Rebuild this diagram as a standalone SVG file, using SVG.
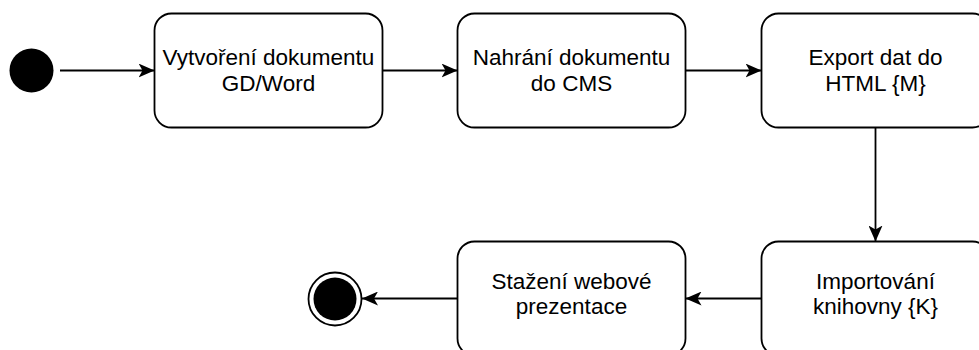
<svg xmlns="http://www.w3.org/2000/svg" width="979" height="350" viewBox="0 0 979 350">
  <style>
    .box { fill: #ffffff; stroke: #000000; stroke-width: 1.8; }
    .lbl { font-family: "Liberation Sans", Arial, Helvetica, sans-serif; font-size: 22.5px; fill: #000000; text-anchor: middle; }
    .edge { fill: none; stroke: #000000; stroke-width: 1.8; marker-end: url(#arrow); }
  </style>
  <defs>
    <marker id="arrow" markerUnits="userSpaceOnUse" viewBox="0 0 16 14" refX="16" refY="7" markerWidth="16" markerHeight="14" orient="auto">
      <path d="M0,0 L16,7 L0,14 L4,7 Z" fill="#000000"/>
    </marker>
  </defs>
  <rect width="979" height="350" fill="#ffffff"/>

  <!-- transitions -->
  <g id="connectors">
    <line class="edge" x1="60" y1="70.5" x2="154.5" y2="70.5"/>
    <line class="edge" x1="382.5" y1="70.5" x2="457.5" y2="70.5"/>
    <line class="edge" x1="685.5" y1="70.5" x2="761.5" y2="70.5"/>
    <line class="edge" x1="875.5" y1="127.5" x2="875.5" y2="241.5"/>
    <line class="edge" x1="761.5" y1="298.5" x2="685.5" y2="298.5"/>
    <line class="edge" x1="457.5" y1="298.5" x2="362" y2="298.5"/>
  </g>

  <!-- initial state -->
  <g id="start">
    <circle cx="31.5" cy="70.5" r="22" fill="#000000"/>
  </g>

  <g id="create-doc">
    <rect class="box" x="154.5" y="13.5" width="228" height="114" rx="17" ry="17"/>
    <text class="lbl" x="268.5" y="65">Vytvoření dokumentu</text>
    <text class="lbl" x="268.5" y="91">GD/Word</text>
  </g>

  <g id="upload-cms">
    <rect class="box" x="457.5" y="13.5" width="228" height="114" rx="17" ry="17"/>
    <text class="lbl" x="571.5" y="65">Nahrání dokumentu</text>
    <text class="lbl" x="571.5" y="91">do CMS</text>
  </g>

  <g id="export-html">
    <rect class="box" x="761.5" y="13.5" width="228" height="114" rx="17" ry="17"/>
    <text class="lbl" x="875.5" y="65">Export dat do</text>
    <text class="lbl" x="875.5" y="91">HTML {M}</text>
  </g>

  <g id="import-lib">
    <rect class="box" x="761.5" y="241.5" width="228" height="114" rx="17" ry="17"/>
    <text class="lbl" x="875.5" y="288.5">Importování</text>
    <text class="lbl" x="875.5" y="314">knihovny {K}</text>
  </g>

  <g id="download-site">
    <rect class="box" x="457.5" y="241.5" width="228" height="114" rx="17" ry="17"/>
    <text class="lbl" x="571.5" y="288.5">Stažení webové</text>
    <text class="lbl" x="571.5" y="314">prezentace</text>
  </g>

  <!-- final state -->
  <g id="end">
    <circle cx="335" cy="299" r="26.5" fill="#ffffff" stroke="#000000" stroke-width="1.8"/>
    <circle cx="335" cy="299" r="21.5" fill="#000000"/>
  </g>
</svg>
